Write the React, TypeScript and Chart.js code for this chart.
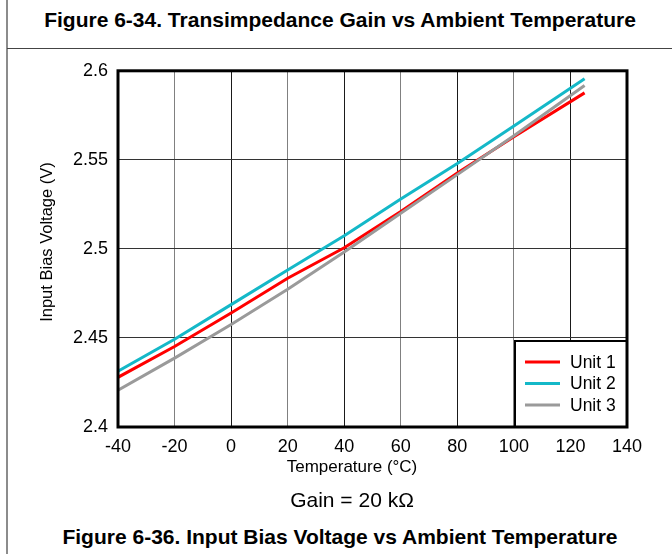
import React, { useEffect, useRef } from "react";
import { Chart, registerables } from "chart.js";

Chart.register(...registerables);

const temperatures = [-40, -20, 0, 20, 40, 60, 80, 100, 125];
const unit1 = [2.4279, 2.4452, 2.464, 2.4835, 2.5006, 2.521, 2.5426, 2.563, 2.5876];
const unit2 = [2.4313, 2.4493, 2.4687, 2.4882, 2.5074, 2.528, 2.548, 2.569, 2.5956];
const unit3 = [2.4206, 2.4387, 2.4576, 2.4774, 2.4983, 2.52, 2.5417, 2.5635, 2.5918];
const seriesNames = ["Unit 1", "Unit 2", "Unit 3"];
const seriesColors = ["#ff0000", "#14b8c8", "#9a9a9a"];
const xTicks = { min: -40, max: 140, step: 20 };
const yTicks = { min: 2.4, max: 2.6, step: 0.05 };

const FONT = "'Liberation Sans', Arial, sans-serif";

const framePlugin = {
  id: "frame",
  afterDraw(chart: any) {
    const { ctx, chartArea } = chart;
    const { left, top, right, bottom } = chartArea;
    ctx.save();
    ctx.strokeStyle = "#000";
    ctx.lineWidth = 3;
    ctx.strokeRect(left, top, right - left, bottom - top);
    ctx.restore();
  },
};

const legendPlugin = {
  id: "insideLegend",
  afterDatasetsDraw(chart: any) {
    const { ctx, chartArea } = chart;
    const boxW = 112;
    const boxH = 86;
    const x0 = chartArea.right - boxW;
    const y0 = chartArea.bottom - boxH;
    ctx.save();
    ctx.fillStyle = "#fff";
    ctx.fillRect(x0, y0, boxW, boxH);
    ctx.strokeStyle = "#000";
    ctx.lineWidth = 2;
    ctx.strokeRect(x0, y0, boxW, boxH);
    ctx.font = `17.5px ${FONT}`;
    ctx.textBaseline = "middle";
    ctx.textAlign = "left";
    chart.data.datasets.forEach((ds: any, i: number) => {
      const y = y0 + 21 + i * 21.5;
      ctx.strokeStyle = ds.borderColor;
      ctx.lineWidth = 3;
      ctx.beginPath();
      ctx.moveTo(x0 + 10, y);
      ctx.lineTo(x0 + 45, y);
      ctx.stroke();
      ctx.fillStyle = "#000";
      ctx.fillText(ds.label, x0 + 55, y + 1);
    });
    ctx.restore();
  },
};

function App() {
  const canvasRef = useRef<HTMLCanvasElement | null>(null);

  useEffect(() => {
    const canvas = canvasRef.current;
    if (!canvas) return;
    const values = [unit1, unit2, unit3];
    const chart = new Chart(canvas, {
      type: "line",
      data: {
        datasets: values.map((vals, i) => ({
          label: seriesNames[i],
          data: temperatures.map((t, j) => ({ x: t, y: vals[j] })),
          borderColor: seriesColors[i],
          backgroundColor: seriesColors[i],
          borderWidth: 3,
          pointRadius: 0,
          tension: 0,
          order: 3 - i,
        })),
      },
      options: {
        responsive: false,
        animation: false,
        devicePixelRatio: 1,
        layout: { padding: { left: 0, top: 17, right: 45, bottom: 0 } },
        plugins: {
          legend: { display: false },
          tooltip: { enabled: false },
        },
        scales: {
          x: {
            type: "linear",
            min: xTicks.min,
            max: xTicks.max,
            border: { display: false },
            grid: {
              drawTicks: false,
              lineWidth: 1,
              color: (c: any) => (c.index % 2 === 1 ? "#808080" : "#1a1a1a"),
            },
            ticks: {
              stepSize: xTicks.step,
              padding: 9,
              color: "#000",
              font: { family: FONT, size: 18 },
              maxRotation: 0,
            },
            title: { display: false },
            afterFit(scale: any) {
              scale.height = 53;
            },
          },
          y: {
            type: "linear",
            min: yTicks.min,
            max: yTicks.max,
            border: { display: false },
            grid: {
              drawTicks: false,
              lineWidth: 1,
              color: "#333",
            },
            ticks: {
              stepSize: yTicks.step,
              padding: 10,
              color: "#000",
              font: { family: FONT, size: 18 },
              callback: (v: any) => String(Number(Number(v).toFixed(3))),
            },
            title: { display: false },
            afterFit(scale: any) {
              scale.width = 118;
            },
          },
        },
      },
      plugins: [legendPlugin, framePlugin],
    } as any);
    return () => chart.destroy();
  }, []);

  return (
    <div
      style={{
        position: "fixed",
        left: 0,
        top: 0,
        width: 672,
        height: 554,
        background: "#fff",
        fontFamily: FONT,
        overflow: "hidden",
      }}
    >
      <div
        style={{
          position: "absolute",
          left: 6,
          top: 0,
          width: 2,
          height: 554,
          background: "#8c8c8c",
        }}
      />
      <div
        style={{
          position: "absolute",
          left: 7,
          top: 48,
          width: 665,
          height: 1,
          background: "#444",
        }}
      />
      <div
        style={{
          position: "absolute",
          left: 8,
          width: 664,
          top: 7,
          textAlign: "center",
          fontWeight: "bold",
          fontSize: 21,
          lineHeight: "26px",
          color: "#000",
          whiteSpace: "nowrap",
        }}
      >
        Figure 6-34. Transimpedance Gain vs Ambient Temperature
      </div>
      <canvas
        ref={canvasRef}
        width={672}
        height={430}
        style={{ position: "absolute", left: 0, top: 50, width: 672, height: 430 }}
      />
      <div
        style={{
          position: "absolute",
          left: 46 - 150,
          top: 242 - 11,
          width: 300,
          height: 22,
          lineHeight: "22px",
          textAlign: "center",
          fontSize: 16.5,
          color: "#000",
          transform: "rotate(-90deg)",
          transformOrigin: "150px 11px",
          whiteSpace: "nowrap",
        }}
      >
        Input Bias Voltage (V)
      </div>
      <div
        style={{
          position: "absolute",
          left: 352 - 150,
          width: 300,
          top: 467 - 11,
          lineHeight: "22px",
          textAlign: "center",
          fontSize: 17,
          color: "#000",
          whiteSpace: "nowrap",
        }}
      >
        Temperature (°C)
      </div>
      <div
        style={{
          position: "absolute",
          left: 352 - 150,
          width: 300,
          top: 487,
          textAlign: "center",
          fontSize: 21,
          lineHeight: "26px",
          color: "#000",
          whiteSpace: "nowrap",
        }}
      >
        Gain = 20 kΩ
      </div>
      <div
        style={{
          position: "absolute",
          left: 8,
          width: 664,
          top: 524,
          textAlign: "center",
          fontWeight: "bold",
          fontSize: 21,
          lineHeight: "26px",
          color: "#000",
          whiteSpace: "nowrap",
        }}
      >
        Figure 6-36. Input Bias Voltage vs Ambient Temperature
      </div>
    </div>
  );
}

export default App;
